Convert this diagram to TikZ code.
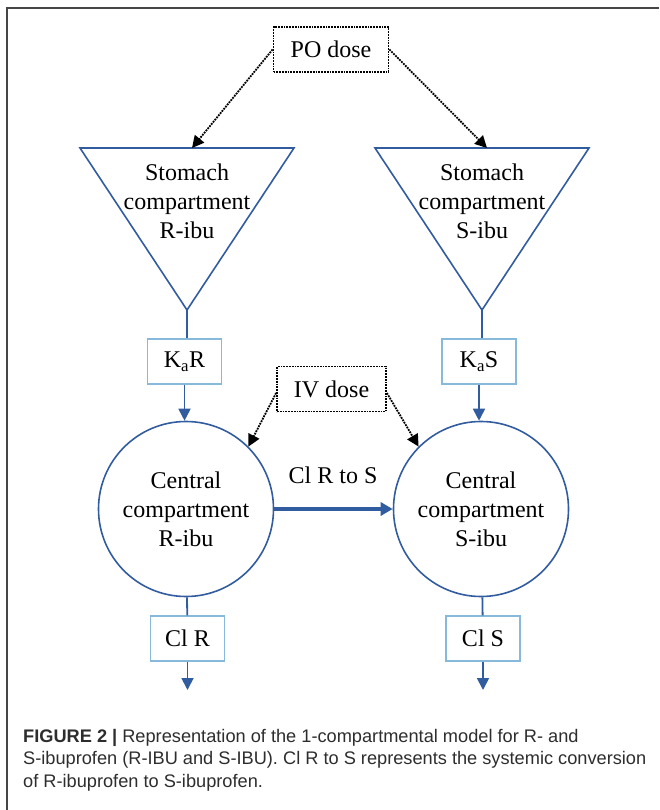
\documentclass[tikz,border=0pt]{standalone}
\usepackage{fontspec}
\setmainfont{Liberation Serif}
\newfontfamily\capfont{Liberation Sans}
\usetikzlibrary{arrows.meta}
\definecolor{lineblue}{RGB}{50,92,160}
\definecolor{boxblue}{RGB}{135,185,218}
\definecolor{framegray}{RGB}{70,70,70}
\definecolor{capgray}{RGB}{45,45,45}
\begin{document}
\begin{tikzpicture}[x=1pt,y=-1pt,
	diag/.style={font=\fontsize{24}{29}\selectfont,align=center},
	dosebox/.style={diag,draw,densely dotted,line width=1.8pt,minimum height=45pt,inner sep=0pt},
	ratebox/.style={diag,draw=boxblue,line width=1.2pt,fill=white,minimum width=74pt,minimum height=45pt,inner sep=0pt},
	compart/.style={diag,draw=lineblue,line width=1.6pt,circle,minimum size=175pt,inner sep=0pt},
	flow/.style={draw=lineblue,line width=1.8pt},
	flowarrow/.style={flow,-{Triangle[width=12pt,length=12pt]}},
	dosearrow/.style={densely dotted,line width=1.8pt,-{Triangle[width=12pt,length=12pt]}}]
	\useasboundingbox (0,0) rectangle (659,810);
	%\draw [help lines,step=50] (0,0) grid (659,810);
	\draw[framegray,line width=1.5pt] (7,810) -- (7,8) -- (659,8);
	% doses
	\node[dosebox,minimum width=115pt] (po) at (331,49.5) {PO dose};
	\node[dosebox,minimum width=109pt] (iv) at (331.5,389) {IV dose};
	% stomach compartments
	\draw[lineblue,line width=1.6pt] (80,148) -- (294,148) -- (187,310) -- cycle;
	\draw[lineblue,line width=1.6pt] (375,148) -- (589,148) -- (482,310) -- cycle;
	\coordinate (stomRtop) at (192,148);
	\coordinate (stomStop) at (487,148);
	\coordinate (stomRapex) at (187,310);
	\coordinate (stomSapex) at (482,310);
	\node[diag] (stomR) at (187,201) {Stomach\\compartment\\R-ibu};
	\node[diag] (stomS) at (482,201) {Stomach\\compartment\\S-ibu};
	% absorption
	\node[ratebox] (kaR) at (184.5,361.5) {K\textsubscript{a}R};
	\node[ratebox] (kaS) at (479,361.5) {K\textsubscript{a}S};
	% central compartments
	\node[compart] (cenR) at (186,509) {Central\\compartment\\R-ibu};
	\node[compart] (cenS) at (481,509) {Central\\compartment\\S-ibu};
	\node[diag] (conv) at (333,475) {Cl R to S};
	% clearance
	\node[ratebox] (clR) at (187.5,638.5) {Cl R};
	\node[ratebox] (clS) at (483,638.5) {Cl S};
	\coordinate (outR) at (187.5,690);
	\coordinate (outS) at (483,690);
	% connectors
	\draw[dosearrow] (po.west) -- (stomRtop);
	\draw[dosearrow] (po.east) -- (stomStop);
	\draw[dosearrow] ([yshift=-4pt]iv.west) -- (cenR.45);
	\draw[dosearrow] ([yshift=-4pt]iv.east) -- (cenS.135);
	\draw[flow] (stomRapex) -- (stomRapex |- kaR.north);
	\draw[flow] (stomSapex) -- (stomSapex |- kaS.north);
	\draw[flowarrow] (kaR) -- (kaR |- cenR.north);
	\draw[flowarrow] (kaS) -- (kaS |- cenS.north);
	\draw[flowarrow,line width=3.4pt,-{Triangle[width=13pt,length=12pt]}] (cenR) -- (cenS);
	\draw[flow] (cenR) -- (clR);
	\draw[flow] (cenS) -- (clS);
	\draw[flowarrow] (clR) -- (outR);
	\draw[flowarrow] (clS) -- (outS);
	% caption
	\node[anchor=north west,inner sep=0pt,align=left,text=capgray,
		font=\capfont\fontsize{18.2}{22.5}\selectfont] (caption) at (23,729)
		{\textbf{FIGURE 2 |} Representation of the 1-compartmental model for R- and\\
		S-ibuprofen (R-IBU and S-IBU). Cl R to S represents the systemic conversion\\
		of R-ibuprofen to S-ibuprofen.};
\end{tikzpicture}
\end{document}
